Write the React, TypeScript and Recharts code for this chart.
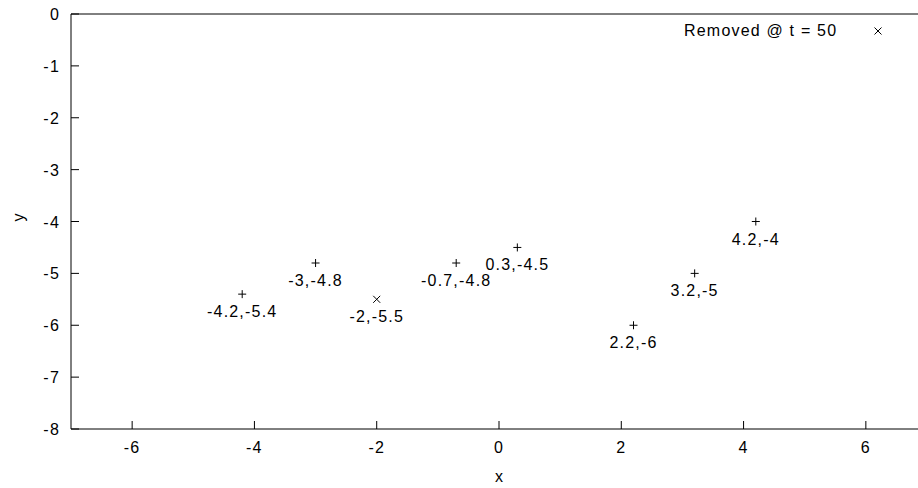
import { ScatterChart, Scatter, XAxis, YAxis, LabelList } from 'recharts';

const plusX = [-4.2, -3, -0.7, 0.3, 2.2, 3.2, 4.2];
const plusY = [-5.4, -4.8, -4.8, -4.5, -6, -5, -4];
const removedX = [-2];
const removedY = [-5.5];
const xTicks = [-6, -4, -2, 0, 2, 4, 6];
const yTicks = [0, -1, -2, -3, -4, -5, -6, -7, -8];
const legendLabel = 'Removed @ t = 50';

const FONT = "'Liberation Sans', Arial, sans-serif";
const TEXT = { fontFamily: FONT, fontSize: 16, letterSpacing: 1.2, fill: '#000' };

const plusData = plusX.map((x, i) => ({ x, y: plusY[i], label: `${x},${plusY[i]}` }));
const removedData = removedX.map((x, i) => ({ x, y: removedY[i], label: `${x},${removedY[i]}` }));

function PlusShape(props: any) {
  const { cx, cy } = props;
  return (
    <path d={`M${cx - 4},${cy}H${cx + 4}M${cx},${cy - 4}V${cy + 4}`} stroke="#000" strokeWidth={1} fill="none" />
  );
}

function CrossShape(props: any) {
  const { cx, cy } = props;
  return (
    <path d={`M${cx - 3.5},${cy - 3.5}L${cx + 3.5},${cy + 3.5}M${cx - 3.5},${cy + 3.5}L${cx + 3.5},${cy - 3.5}`} stroke="#000" strokeWidth={1} fill="none" />
  );
}

function PointLabel(props: any) {
  const { x, y, width, height, value } = props;
  const cx = x + (width || 0) / 2;
  const cy = y + (height || 0) / 2;
  return (
    <text x={cx} y={cy + 23} textAnchor="middle" {...TEXT}>
      {value}
    </text>
  );
}

function BottomTick(props: any) {
  const { x, y, payload } = props;
  return (
    <g>
      <line x1={x} y1={y} x2={x} y2={y - 8} stroke="#000" />
      <text x={x} y={y + 24} textAnchor="middle" {...TEXT}>{payload.value}</text>
    </g>
  );
}

function TopTick(props: any) {
  const { x, y } = props;
  return <line x1={x} y1={y} x2={x} y2={y + 8} stroke="#000" />;
}

function LeftTick(props: any) {
  const { x, y, payload } = props;
  return (
    <g>
      <line x1={x} y1={y} x2={x + 8} y2={y} stroke="#000" />
      <text x={x - 11} y={y + 6} textAnchor="end" {...TEXT}>{payload.value}</text>
    </g>
  );
}

function RightTick(props: any) {
  const { x, y } = props;
  return <line x1={x} y1={y} x2={x - 8} y2={y} stroke="#000" />;
}

function KeyBox() {
  return (
    <div
      style={{
        position: 'absolute', top: 22, left: 684, display: 'flex', alignItems: 'center',
        fontFamily: FONT, fontSize: 16, letterSpacing: 1.2, color: '#000',
      }}
    >
      <span>{legendLabel}</span>
      <svg width={10} height={10} style={{ marginLeft: 36 }}>
        <path d="M1.5,1.5L8.5,8.5M1.5,8.5L8.5,1.5" stroke="#000" strokeWidth={1} />
      </svg>
    </div>
  );
}

export default function App() {
  return (
    <div style={{ position: 'fixed', top: 0, left: 0, width: 918, height: 488, overflow: 'hidden', background: '#fff' }}>
      <ScatterChart width={960} height={488} margin={{ top: 0, right: 0, bottom: 0, left: 0 }}>
        <XAxis
          xAxisId="bottom"
          type="number"
          dataKey="x"
          domain={[-7, 7]}
          ticks={xTicks}
          allowDataOverflow
          height={59}
          tickSize={0}
          tickMargin={0}
          tickLine={false}
          axisLine={{ stroke: '#000' }}
          tick={<BottomTick />}
          interval={0}
          label={{ value: 'x', position: 'insideBottom', offset: 6, style: { ...TEXT, letterSpacing: 0 } }}
        />
        <XAxis
          xAxisId="top"
          orientation="top"
          type="number"
          dataKey="x"
          domain={[-7, 7]}
          ticks={xTicks}
          height={14}
          tickSize={0}
          tickMargin={0}
          tickLine={false}
          axisLine={{ stroke: '#000' }}
          tick={<TopTick />}
          interval={0}
        />
        <YAxis
          yAxisId="left"
          type="number"
          dataKey="y"
          domain={[-8, 0]}
          ticks={yTicks}
          width={71}
          tickSize={0}
          tickMargin={0}
          tickLine={false}
          axisLine={{ stroke: '#000' }}
          tick={<LeftTick />}
          interval={0}
          label={{ value: 'y', angle: -90, position: 'insideLeft', offset: 18, style: { ...TEXT, letterSpacing: 0 } }}
        />
        <YAxis
          yAxisId="right"
          orientation="right"
          type="number"
          dataKey="y"
          domain={[-8, 0]}
          ticks={yTicks}
          width={33}
          tickSize={0}
          tickMargin={0}
          tickLine={false}
          axisLine={{ stroke: '#000' }}
          tick={<RightTick />}
          interval={0}
        />
        <Scatter
          name="points"
          data={plusData}
          xAxisId="bottom"
          yAxisId="left"
          shape={<PlusShape />}
          legendType="none"
          isAnimationActive={false}
        >
          <LabelList dataKey="label" content={<PointLabel />} />
        </Scatter>
        <Scatter
          name={legendLabel}
          data={removedData}
          xAxisId="bottom"
          yAxisId="left"
          shape={<CrossShape />}
          isAnimationActive={false}
        >
          <LabelList dataKey="label" content={<PointLabel />} />
        </Scatter>
      </ScatterChart>
      <KeyBox />
    </div>
  );
}
